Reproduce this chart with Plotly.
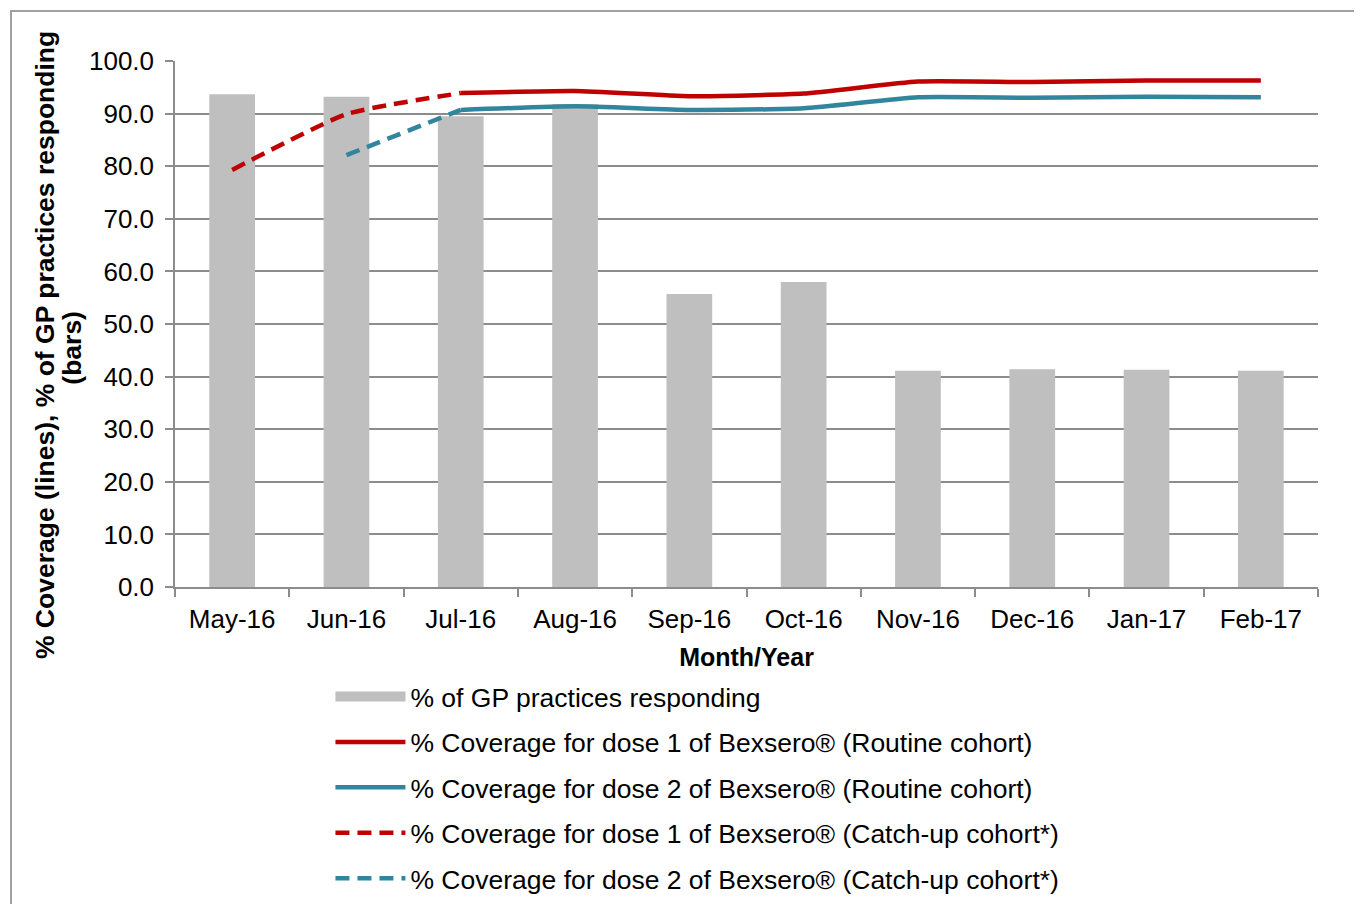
import plotly.graph_objects as go

# Bexsero coverage data
months = ['May-16', 'Jun-16', 'Jul-16', 'Aug-16', 'Sep-16',
          'Oct-16', 'Nov-16', 'Dec-16', 'Jan-17', 'Feb-17']
gp_responding = [93.7, 93.2, 89.5, 91.8, 55.7, 58.0, 41.1, 41.4, 41.3, 41.1]
dose1_routine = [None, None, 93.9, 94.3, 93.3, 93.8, 96.1, 96.0, 96.3, 96.3]
dose2_routine = [None, None, 90.7, 91.4, 90.7, 91.0, 93.1, 93.0, 93.2, 93.1]
dose1_catchup = [79.3, 89.9, 93.9, None, None, None, None, None, None, None]
dose2_catchup = [None, 82.1, 90.7, None, None, None, None, None, None, None]

RED = '#C00000'
TEAL = '#31859C'
BAR = '#BFBFBF'
GRID = '#8C8C8C'
FONT = 'Liberation Sans, Arial, sans-serif'

fig = go.Figure()
fig.add_trace(go.Bar(x=months, y=gp_responding, name='% of GP practices responding',
                     marker=dict(color=BAR, line_width=0), showlegend=False))
# legend-only entry so the bar key is drawn as a wide block like Excel does
fig.add_trace(go.Scatter(x=[None], y=[None], mode='lines', legendgroup='a',
                         name='% of GP practices responding',
                         line=dict(color=BAR, width=17)))
fig.add_trace(go.Scatter(x=months, y=dose1_routine, mode='lines', legendgroup='b',
                         name='% Coverage for dose 1 of Bexsero® (Routine cohort)',
                         line=dict(color=RED, width=4.5, shape='spline', smoothing=0.5)))
fig.add_trace(go.Scatter(x=months, y=dose2_routine, mode='lines', legendgroup='c',
                         name='% Coverage for dose 2 of Bexsero® (Routine cohort)',
                         line=dict(color=TEAL, width=4.5, shape='spline', smoothing=0.5)))
fig.add_trace(go.Scatter(x=months, y=dose1_catchup, mode='lines', legendgroup='d',
                         name='% Coverage for dose 1 of Bexsero® (Catch-up cohort*)',
                         line=dict(color=RED, width=4.5, dash='14px,8px', shape='spline', smoothing=0.5)))
fig.add_trace(go.Scatter(x=months, y=dose2_catchup, mode='lines', legendgroup='e',
                         name='% Coverage for dose 2 of Bexsero® (Catch-up cohort*)',
                         line=dict(color=TEAL, width=4.5, dash='14px,8px', shape='spline', smoothing=0.5)))

# outer chart border
fig.add_shape(type='rect', xref='paper', yref='paper', x0=-0.1435, x1=1.3, y0=-1.0, y1=1.095,
              line=dict(color='#A0A0A0', width=2), fillcolor='rgba(0,0,0,0)')

# y axis title, two lines placed by hand (Excel spacing is tighter than plotly's)
fig.add_annotation(xref='paper', yref='paper', x=-0.1137, y=0.46, xanchor='center', yanchor='middle',
                   text='<b>% Coverage (lines), % of GP practices responding</b>',
                   textangle=-90, showarrow=False, font=dict(size=26.5, color='black', family=FONT))
fig.add_annotation(xref='paper', yref='paper', x=-0.0901, y=0.455, xanchor='center', yanchor='middle',
                   text='<b>(bars)</b>',
                   textangle=-90, showarrow=False, font=dict(size=26.5, color='black', family=FONT))

fig.update_layout(
    width=1354, height=896,
    margin=dict(l=167, r=44, t=53, b=317, autoexpand=False),
    paper_bgcolor='white', plot_bgcolor='white',
    font=dict(family=FONT, size=26, color='black'),
    bargap=0.6,
    showlegend=True,
    legend=dict(x=0.136, y=-0.163, xanchor='left', yanchor='top', orientation='v',
                traceorder='grouped', itemwidth=70, tracegroupgap=8,
                font=dict(size=26.5, family=FONT)),
    xaxis=dict(type='category', showline=True, linecolor=GRID, linewidth=1.5,
               ticks='outside', tickson='boundaries', ticklen=8, tickcolor=GRID, tickwidth=1.5,
               showgrid=False, ticklabelstandoff=8,
               title=dict(text='<b>Month/Year</b>', standoff=16, font=dict(size=25))),
    yaxis=dict(range=[0, 100], dtick=10, tickformat='.1f', showline=True, linecolor=GRID,
               linewidth=1.5, ticks='outside', ticklen=8, tickcolor=GRID, tickwidth=1.5,
               showgrid=True, gridcolor=GRID, gridwidth=1.5, zeroline=False,
               ticklabelstandoff=6),
)

fig.write_html('out.html')
